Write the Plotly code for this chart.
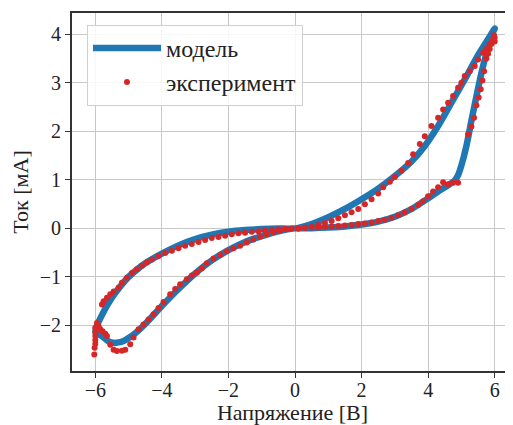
import plotly.graph_objects as go

# ---- model curve (loop order) ----
model_v = [0, 0.5, 1, 1.5, 2, 2.5, 3, 3.5, 4, 4.3, 4.6, 4.8, 4.9, 5.0, 5.15, 5.3, 5.45, 5.6, 5.75, 5.9, 6.0,
           5.8, 5.5, 5.1, 4.7, 4.3, 3.9, 3.5, 3.0, 2.5, 2.0, 1.5, 1.0, 0.5, 0,
           -0.5, -1, -1.5, -2, -2.5, -3, -3.5, -4, -4.5, -4.75, -5, -5.25, -5.5, -5.75, -6.0,
           -5.8, -5.6, -5.45, -5.3, -5.15, -5.0, -4.8, -4.5, -4.0, -3.5, -3.0, -2.5, -2.0, -1.5, -1.0, -0.5, 0]
model_i = [0, 0.005, 0.02, 0.04, 0.08, 0.14, 0.24, 0.4, 0.62, 0.76, 0.89, 0.99, 1.1, 1.3, 1.7, 2.22, 2.72, 3.2, 3.61, 3.98, 4.12,
           3.9, 3.57, 3.07, 2.59, 2.11, 1.7, 1.38, 1.08, 0.82, 0.6, 0.4, 0.23, 0.09, 0,
           -0.005, -0.015, -0.035, -0.07, -0.13, -0.22, -0.35, -0.52, -0.72, -0.85, -1.0, -1.2, -1.43, -1.72, -2.12,
           -2.22, -2.33, -2.36, -2.35, -2.32, -2.26, -2.16, -1.97, -1.6, -1.25, -0.93, -0.66, -0.45, -0.28, -0.16, -0.06, 0]

# ---- experiment points ----
exp_lo_pos_v = [0.1, 0.3, 0.5, 0.7, 0.9, 1.1, 1.3, 1.5, 1.7, 1.9, 2.1, 2.3, 2.5, 2.7, 2.9, 3.1, 3.3, 3.5, 3.7,
                3.85, 4.0, 4.15, 4.3, 4.45, 4.6, 4.75, 4.9]
exp_lo_pos_i = [0.0, 0.01, 0.02, 0.02, 0.03, 0.04, 0.05, 0.06, 0.07, 0.09, 0.1, 0.12, 0.15, 0.18, 0.22, 0.27, 0.33,
                0.4, 0.48, 0.56, 0.66, 0.76, 0.85, 0.95, 0.91, 0.94, 0.94]
exp_rise_v = [5.2, 5.3, 5.38, 5.45, 5.52, 5.58, 5.63, 5.68, 5.75, 5.8, 5.85, 5.9, 5.95, 6.0, 5.98, 6.0]
exp_rise_i = [1.94, 2.1, 2.28, 2.54, 2.7, 2.87, 3.05, 3.24, 3.5, 3.6, 3.7, 3.8, 3.87, 3.93, 3.98, 3.85]
exp_up_pos_v = [5.95, 5.85, 5.75, 5.65, 5.5, 5.4, 5.25, 5.1, 5.0, 4.9, 4.75, 4.6, 4.45, 4.3, 4.1, 3.9, 3.75,
                3.55, 3.4, 3.2, 3.0, 2.85, 2.65, 2.5, 2.3, 2.1, 1.9, 1.7, 1.5, 1.3, 1.1, 0.9, 0.7, 0.5, 0.3, 0.1]
exp_up_pos_i = [3.9, 3.8, 3.7, 3.62, 3.48, 3.35, 3.24, 3.14, 3.0, 2.9, 2.73, 2.59, 2.45, 2.28, 2.11, 1.9, 1.74,
                1.53, 1.35, 1.19, 1.06, 0.96, 0.85, 0.72, 0.6, 0.5, 0.4, 0.33, 0.27, 0.21, 0.15, 0.11, 0.07, 0.04,
                0.02, 0.0]
exp_up_neg_v = [-0.1, -0.3, -0.5, -0.7, -0.9, -1.1, -1.3, -1.5, -1.7, -1.9, -2.1, -2.3, -2.5, -2.7, -2.9, -3.1,
                -3.3, -3.5, -3.7, -3.9, -4.1, -4.3, -4.45, -4.6, -4.75, -4.9, -5.05, -5.2, -5.3, -5.45, -5.55,
                -5.65, -5.75, -5.8]
exp_up_neg_i = [0.0, -0.01, -0.02, -0.03, -0.04, -0.06, -0.07, -0.09, -0.1, -0.12, -0.15, -0.18, -0.2, -0.24,
                -0.28, -0.32, -0.36, -0.41, -0.46, -0.51, -0.57, -0.64, -0.7, -0.77, -0.84, -0.92, -1.02, -1.12,
                -1.22, -1.3, -1.36, -1.43, -1.5, -1.57]
exp_tip_v = [-5.95, -5.9, -5.85, -5.78, -5.7, -5.65, -6.0, -6.0, -6.0, -6.0, -6.0, -6.02, -6.03]
exp_tip_i = [-1.95, -2.02, -2.08, -2.12, -2.17, -2.22, -2.05, -2.15, -2.22, -2.3, -2.38, -2.46, -2.6]
exp_lo_neg_v = [-5.55, -5.45, -5.35, -5.2, -5.1, -4.95, -4.85, -4.7, -4.55, -4.4, -4.25, -4.1, -3.95, -3.75,
                -3.6, -3.45, -3.25, -3.1, -2.95, -2.8, -2.65, -2.45, -2.25, -2.05, -1.85, -1.65, -1.45, -1.25,
                -1.05, -0.85, -0.65, -0.45, -0.25]
exp_lo_neg_i = [-2.4, -2.5, -2.53, -2.52, -2.5, -2.39, -2.25, -2.08, -1.98, -1.88, -1.77, -1.64, -1.52, -1.36,
                -1.25, -1.15, -1.05, -0.97, -0.91, -0.82, -0.72, -0.62, -0.55, -0.47, -0.41, -0.36, -0.29, -0.23,
                -0.17, -0.12, -0.08, -0.05, -0.02]

exp_v = exp_lo_pos_v + exp_rise_v + exp_up_pos_v + exp_up_neg_v + exp_tip_v + exp_lo_neg_v
exp_i = exp_lo_pos_i + exp_rise_i + exp_up_pos_i + exp_up_neg_i + exp_tip_i + exp_lo_neg_i

x_ticks = [-6, -4, -2, 0, 2, 4, 6]
y_ticks = [-2, -1, 0, 1, 2, 3, 4]

FONT = "Liberation Serif, Times New Roman, serif"

fig = go.Figure()
fig.add_trace(go.Scatter(x=model_v, y=model_i, mode="lines", name="модель",
                         line=dict(color="#1f77b4", width=6.5, shape="spline", smoothing=0.6)))
fig.add_trace(go.Scatter(x=exp_v, y=exp_i, mode="markers", name="эксперимент",
                         marker=dict(color="#d62728", size=6, line=dict(width=0))))

axis_common = dict(
    showgrid=True, gridcolor="#c8c8c8", gridwidth=1,
    zeroline=False,
    showline=True, linecolor="#333333", linewidth=2,
    ticks="outside", ticklen=5, tickwidth=1.2, tickcolor="#333333",
    tickfont=dict(family=FONT, size=20, color="#222222"),
    automargin=False,
)

fig.update_xaxes(range=[-6.7, 6.55], tickvals=x_ticks, mirror=True, ticklabelstandoff=-5,
                 title=dict(text="Напряжение [В]", font=dict(family=FONT, size=22, color="#222222")),
                 **axis_common)
fig.update_yaxes(range=[-2.94, 4.44], tickvals=y_ticks,
                 title=dict(text="Ток [мА]", font=dict(family=FONT, size=22, color="#222222")),
                 **axis_common)

# page body has an 8px margin, so the figure is sized to fit the 513x425 window
fig.update_layout(
    width=505, height=417,
    margin=dict(l=64, r=0, t=5, b=54),
    plot_bgcolor="white", paper_bgcolor="white",
    font=dict(family=FONT, color="#222222"),
    showlegend=True,
    legend=dict(x=0.034, y=0.967, xanchor="left", yanchor="top",
                bgcolor="rgba(255,255,255,0.85)", bordercolor="#d0d0d0", borderwidth=1,
                font=dict(family=FONT, size=24, color="#222222"),
                itemwidth=68),
)

fig.write_html("out.html")
